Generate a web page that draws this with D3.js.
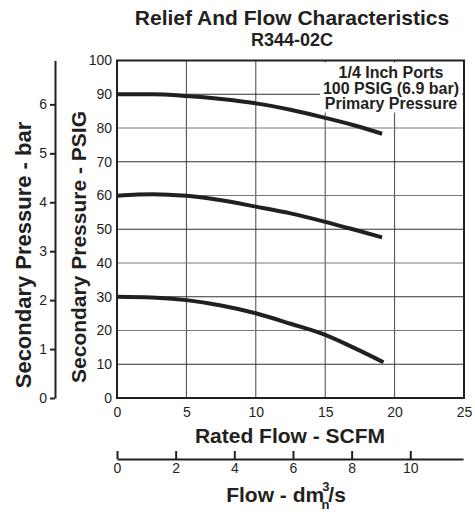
<!DOCTYPE html>
<html>
<head>
<meta charset="utf-8">
<script src="https://cdn.jsdelivr.net/npm/d3@7"></script>
<style>
  body { margin: 0; background: #fff; }
  text { font-family: "Liberation Sans", Arial, Helvetica, sans-serif; fill: #231f20; }
</style>
</head>
<body>
<script>
// chart values
var flowTicks = [0, 5, 10, 15, 20, 25];          // SCFM
var psigTicks = [0, 10, 20, 30, 40, 50, 60, 70, 80, 90, 100];
var barTicks = [0, 1, 2, 3, 4, 5, 6];
var dmTicks = [0, 2, 4, 6, 8, 10];

// curves: secondary pressure (PSIG) vs rated flow (SCFM)
var set90Flow = [0, 2.5, 5, 7.5, 10, 12.5, 15, 17, 19.1];
var set90Psig = [90, 90, 89.5, 88.6, 87.3, 85.4, 83, 80.9, 78.3];
var set60Flow = [0, 1.5, 2.6, 5, 7.5, 10, 12.5, 15, 17, 19.1];
var set60Psig = [59.9, 60.3, 60.4, 59.9, 58.6, 56.7, 54.7, 52.2, 50, 47.6];
var set30Flow = [0, 2.5, 5, 7.5, 10, 12.5, 15, 17, 19.2];
var set30Psig = [30, 29.8, 29, 27.4, 25.1, 22, 18.7, 15, 10.6];

var noteLines = ["1/4 Inch Ports", "100 PSIG (6.9 bar)", "Primary Pressure"];

var PSI_PER_BAR = 14.5;
var DM3S_PER_SCFM = 0.4719;

function init() {
    var w = 475, h = 512;
    var left = 117, right = 464, top = 60.5, bottom = 398;

    var svg = d3.select("body").append("svg")
        .attr("width", w)
        .attr("height", h);

    var x = d3.scaleLinear().domain([0, 25]).range([left, right]);
    var y = d3.scaleLinear().domain([0, 100]).range([bottom, top]);
    var yBar = d3.scaleLinear().domain([0, 100 / PSI_PER_BAR]).range([bottom, top]);
    var xDm = d3.scaleLinear().domain([0, 25 * DM3S_PER_SCFM]).range([left, right - 1]);

    // grid
    svg.append("g").selectAll("line")
        .data(flowTicks.slice(1, -1))
        .enter().append("line")
        .attr("x1", d => x(d)).attr("x2", d => x(d))
        .attr("y1", top).attr("y2", bottom)
        .attr("stroke", "#444").attr("stroke-width", 1);

    svg.append("g").selectAll("line")
        .data(psigTicks.slice(1, -1))
        .enter().append("line")
        .attr("x1", left).attr("x2", right)
        .attr("y1", d => y(d)).attr("y2", d => y(d))
        .attr("stroke", (d, i) => i % 2 ? "#777" : "#333").attr("stroke-width", 1);

    // note box, covers the grid behind it
    svg.append("rect")
        .attr("x", 320).attr("y", top + 2)
        .attr("width", right - 322).attr("height", 50)
        .attr("fill", "#fff");

    svg.append("g").selectAll("text")
        .data(noteLines)
        .enter().append("text")
        .attr("x", 391)
        .attr("y", (d, i) => 78 + i * 15.5)
        .attr("text-anchor", "middle")
        .style("font-size", "16px")
        .style("font-weight", "bold")
        .text(d => d);

    // curves
    var line = d3.line()
        .x(d => x(d[0]))
        .y(d => y(d[1]))
        .curve(d3.curveMonotoneX);

    var curves = [
        d3.zip(set90Flow, set90Psig),
        d3.zip(set60Flow, set60Psig),
        d3.zip(set30Flow, set30Psig)
    ];

    svg.append("g").selectAll("path")
        .data(curves)
        .enter().append("path")
        .attr("d", line)
        .attr("fill", "none")
        .attr("stroke", "#231f20")
        .attr("stroke-width", 4);

    // frame
    svg.append("rect")
        .attr("x", left).attr("y", top)
        .attr("width", right - left).attr("height", bottom - top)
        .attr("fill", "none")
        .attr("stroke", "#231f20")
        .attr("stroke-width", 2);

    // axes
    var gx = svg.append("g")
        .attr("transform", "translate(0," + bottom + ")")
        .call(d3.axisBottom(x).tickValues(flowTicks).tickSize(0).tickPadding(9));
    gx.select(".domain").remove();

    var gy = svg.append("g")
        .attr("transform", "translate(" + left + ",0)")
        .call(d3.axisLeft(y).tickValues(psigTicks).tickSize(0).tickPadding(5));
    gy.select(".domain").remove();

    var gBar = svg.append("g")
        .attr("transform", "translate(55,0)")
        .call(d3.axisLeft(yBar).tickValues(barTicks).tickFormat(d3.format("d"))
            .tickSizeInner(5).tickSizeOuter(0).tickPadding(3));

    var gDm = svg.append("g")
        .attr("transform", "translate(0,459)")
        .call(d3.axisBottom(xDm).tickValues(dmTicks).tickSizeInner(-8).tickSizeOuter(0).tickPadding(4));

    [gx, gy, gBar, gDm].forEach(g => {
        g.selectAll("text")
            .style("font-size", "14px")
            .style("font-family", null)
            .attr("fill", "#231f20");
        g.selectAll("line, path").attr("stroke", "#231f20").attr("stroke-width", 2);
    });

    // titles
    svg.append("text")
        .attr("x", 292).attr("y", 25)
        .attr("text-anchor", "middle")
        .style("font-size", "21px").style("font-weight", "bold")
        .text("Relief And Flow Characteristics");

    svg.append("text")
        .attr("x", 292).attr("y", 46)
        .attr("text-anchor", "middle")
        .style("font-size", "18px").style("font-weight", "bold")
        .text("R344-02C");

    svg.append("text")
        .attr("x", 290).attr("y", 443)
        .attr("text-anchor", "middle")
        .style("font-size", "21px").style("font-weight", "bold")
        .text("Rated Flow - SCFM");

    var flowLabel = svg.append("text")
        .attr("x", 286).attr("y", 502)
        .attr("text-anchor", "middle")
        .style("font-size", "21px").style("font-weight", "bold");
    flowLabel.append("tspan").text("Flow - dm");
    flowLabel.append("tspan").attr("dx", -2).attr("dy", -11).style("font-size", "13px").text("3");
    flowLabel.append("tspan").attr("dx", -8).attr("dy", 18).style("font-size", "13px").text("n");
    flowLabel.append("tspan").attr("dx", -1).attr("dy", -7).text("/s");

    svg.append("text")
        .attr("transform", "translate(86,247) rotate(-90)")
        .attr("text-anchor", "middle")
        .style("font-size", "21px").style("font-weight", "bold")
        .text("Secondary Pressure - PSIG");

    svg.append("text")
        .attr("transform", "translate(31,255) rotate(-90)")
        .attr("text-anchor", "middle")
        .style("font-size", "22px").style("font-weight", "bold")
        .text("Secondary Pressure - bar");
}

window.onload = init;
</script>
</body>
</html>
